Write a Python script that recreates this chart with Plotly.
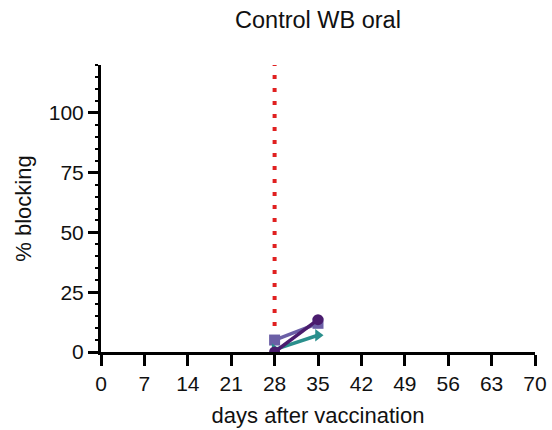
import plotly.graph_objects as go

days = [28, 35]
series_names = ["Animal 1", "Animal 2", "Animal 3"]
series_values = [
    [5, 12],
    [1, 7],
    [0, 13.5],
]
series_colors = ["#6b5fa6", "#2a8f8c", "#4a1c6e"]
series_symbols = ["square", "triangle-right", "circle"]
x_ticks = [0, 7, 14, 21, 28, 35, 42, 49, 56, 63, 70]
y_ticks = [0, 25, 50, 75, 100]
vaccination_day = 28

fig = go.Figure()
fig.add_trace(go.Scatter(
    x=[vaccination_day, vaccination_day], y=[0, 120], mode="lines",
    line=dict(color="#e02020", width=4, dash="4px,9px"), showlegend=False, hoverinfo="skip"))
for name, vals, col, sym in zip(series_names, series_values, series_colors, series_symbols):
    fig.add_trace(go.Scatter(
        x=days, y=vals, mode="lines+markers", name=name,
        line=dict(color=col, width=3.5),
        marker=dict(color=col, symbol=sym, size=11),
        showlegend=False))

fig.update_layout(
    width=552, height=430,
    margin=dict(l=101, r=17, t=65, b=78),
    paper_bgcolor="white", plot_bgcolor="white",
    font=dict(family="Liberation Sans, Arial, sans-serif", color="#111", size=21),
    title=dict(text="Control WB oral", x=0.576, xanchor="center", y=0.953, yanchor="middle",
               font=dict(size=23.5)),
    xaxis=dict(range=[0, 70], tickvals=x_ticks, ticks="outside", ticklen=11, tickwidth=2.5,
               tickcolor="black", showline=True, linecolor="black", linewidth=3,
               showgrid=False, zeroline=False, automargin=False,
               title=dict(text="days after vaccination", standoff=14, font=dict(size=22)),
               tickfont=dict(size=21)),
    yaxis=dict(range=[0, 120], tickvals=y_ticks, ticks="outside", ticklen=10, tickwidth=2.5,
               tickcolor="black", showline=True, linecolor="black", linewidth=3,
               showgrid=False, zeroline=False, automargin=False,
               title=dict(text="% blocking", standoff=12, font=dict(size=22)),
               tickfont=dict(size=21),
               minor=dict(dtick=5, ticks="outside", ticklen=3, tickwidth=2, tickcolor="black")),
)
fig.write_html("out.html")
